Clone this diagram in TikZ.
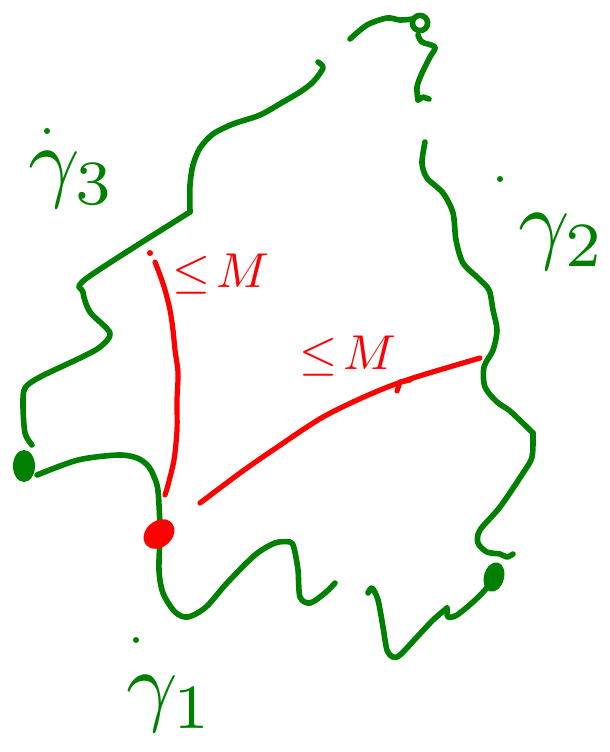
\documentclass[tikz,border=0pt]{standalone}
\usepackage{amsmath,amssymb}
\usepackage{xcolor}
\usetikzlibrary{shapes.geometric}
\definecolor{penGreen}{RGB}{0,128,0}
\definecolor{penRed}{RGB}{255,0,0}

\begin{document}
\begin{tikzpicture}[
  x=0.5pt,
  y=-0.5pt,
  every node/.style={inner sep=0pt},
  greenpath/.style={draw=penGreen, line width=2.8pt, line cap=round, line join=round},
  redpath/.style={draw=penRed, line width=2.6pt, line cap=round, line join=round},
  gdot/.style={ellipse, fill=penGreen, minimum width=11pt, minimum height=16pt},
  rdot/.style={ellipse, fill=penRed, minimum width=17pt, minimum height=13pt, rotate=40},
  glabel/.style={text=penGreen, scale=4.5},
  rlabel/.style={text=penRed, scale=2.45},
  speck/.style={circle, minimum size=3pt}
]
\useasboundingbox (0,0) rectangle (610,752);

% left and upper boundary
\draw[greenpath] plot[smooth] coordinates {(318,62) (323,68) (313,82) (300,92) (283,102) (260,115) (233,124) (213,134) (200,148) (193,165) (190,185) (190,212)};
\draw[greenpath] plot[smooth] coordinates {(190,212) (87,278) (83,292) (90,312) (110,333) (100,347) (80,358) (40,377) (25,388) (23,405) (25,433) (32,445)};

% top arc with small loop
\draw[greenpath] plot[smooth] coordinates {(350,39) (367,25) (387,18) (400,20) (413,19)};
\draw[greenpath] (420,23) circle (3.8pt);
\draw[greenpath] plot[smooth] coordinates {(418,35) (422,42) (435,47) (430,57) (422,73) (417,87) (418,100)};
\draw[greenpath] (418,100) -- (423,97) -- (429,99);

% right boundary
\draw[greenpath] plot[smooth] coordinates {(425,142) (422,163) (427,178) (443,193) (453,213) (456,240) (463,263) (478,278) (489,290) (493,310) (497,330) (493,350) (484,367) (485,387) (497,402) (510,411) (533,433)};
\draw[greenpath] plot[smooth] coordinates {(533,433) (532,457) (523,473) (500,507) (480,530) (478,543) (487,552) (500,554) (507,557) (513,554)};

% lower boundary
\draw[greenpath] plot[smooth] coordinates {(37,475) (78,460) (118,455) (137,458) (149,467) (157,485) (159,505) (160,533) (159,570) (163,593) (175,612) (188,617) (206,607) (227,583) (255,555) (275,543) (290,542) (294,548) (298,570) (300,597) (310,603) (325,593) (335,583)};
\draw[greenpath] plot[smooth] coordinates {(368,593) (372,588) (378,600) (383,627) (387,650) (393,657) (400,655) (417,637) (433,620) (447,608)};
\draw[greenpath] plot[smooth] coordinates {(447,608) (448,617) (457,615) (473,602) (485,590) (494,577)};

% end points
\node[gdot] (a) at (24,466) {};
\node[gdot, rotate=-15, minimum width=10pt, minimum height=15pt] (b) at (494,577) {};
\node[rdot] (p) at (159,534) {};

% red distances
\node[speck, fill=penRed] (r0) at (150,253) {};
\draw[redpath] plot[smooth] coordinates {(155,262) (160,275) (165,290) (170,310) (173,330) (175,350) (178,373) (177,400) (177,430) (174,460) (168,485) (165,495)};
\draw[redpath] plot[smooth] coordinates {(200,503) (240,473) (273,450) (323,417) (373,393) (413,378) (480,358)};
\draw[redpath] (397,391) -- (400,382) -- (410,380);
\node[rlabel] (m1) at (221,274) {$\leq\! M$};
\node[rlabel] (m2) at (348,356) {$\leq\! M$};

% labels
\node[speck, fill=penGreen] (d3) at (47,131) {};
\node[glabel] (g3) at (72,180) {$\gamma_3$};
\node[speck, fill=penGreen] (d2) at (500,179) {};
\node[glabel] (g2) at (562,242) {$\gamma_2$};
\node[speck, fill=penGreen] (d1) at (136,640) {};
\node[glabel] (g1) at (170,704) {$\gamma_1$};
\end{tikzpicture}
\end{document}
